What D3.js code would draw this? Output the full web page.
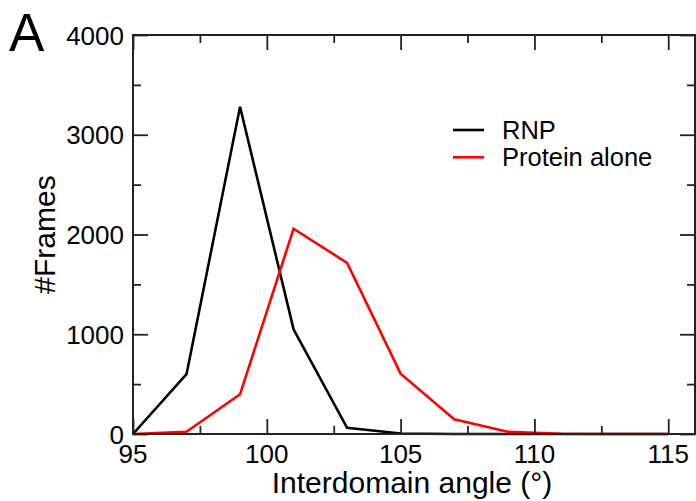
<!DOCTYPE html>
<html>
<head>
<meta charset="utf-8">
<script src="https://cdn.jsdelivr.net/npm/d3@7/dist/d3.min.js"></script>
<style>
  html, body { margin: 0; padding: 0; background: #fff; }
  text { font-family: "Liberation Sans", Arial, sans-serif; fill: #000; }
</style>
</head>
<body>
<div id="chart"></div>
<script>
// Interdomain angle histogram (frames per 2-degree bin)
const angles = [95, 97, 99, 101, 103, 105, 107, 109, 111, 113, 115];
const rnpFrames = [0, 600, 3280, 1050, 62, 5, 0, 0, 0, 0, 0];
const proteinFrames = [0, 22, 398, 2058, 1715, 605, 148, 22, 3, 0, 0];
const xMajor = [95, 100, 105, 110, 115];
const xMinor = [97.5, 102.5, 107.5, 112.5];
const yMajor = [0, 1000, 2000, 3000, 4000];
const yMinor = [500, 1500, 2500, 3500];
const seriesNames = ['RNP', 'Protein alone'];
const seriesColors = ['#000000', '#ff0000'];

const width = 696, height = 501;
const mLeft = 133, mRight = 695, mTop = 35, mBottom = 434;

const svg = d3.select('#chart')
    .append('svg')
    .attr('width', width)
    .attr('height', height);

const x = d3.scaleLinear().domain([95, 116]).range([mLeft, mRight]);
const y = d3.scaleLinear().domain([0, 4000]).range([mBottom, mTop]);

const line = d3.line()
    .x((d, i) => x(angles[i]))
    .y(d => y(d));

// series: black first, red on top
[rnpFrames, proteinFrames].forEach((vals, k) => {
    svg.append('path')
        .datum(vals)
        .attr('fill', 'none')
        .attr('stroke', seriesColors[k])
        .attr('stroke-width', 2.6)
        .attr('stroke-linejoin', 'miter')
        .attr('d', line);
});

// ticks pointing inward on all four sides
const tickColor = '#222';
function ticks(axisFn, scale, vals, size, pos) {
    const g = svg.append('g')
        .attr('transform', pos)
        .call(axisFn(scale).tickValues(vals).tickSize(size).tickFormat(''));
    g.select('.domain').remove();
    g.selectAll('line').attr('stroke', tickColor).attr('stroke-width', 1.8);
}
ticks(d3.axisBottom, x, xMajor, -15, `translate(0,${mBottom})`);
ticks(d3.axisBottom, x, xMinor, -8, `translate(0,${mBottom})`);
ticks(d3.axisTop, x, xMajor, -15, `translate(0,${mTop})`);
ticks(d3.axisTop, x, xMinor, -8, `translate(0,${mTop})`);
ticks(d3.axisLeft, y, yMajor, -15, `translate(${mLeft},0)`);
ticks(d3.axisLeft, y, yMinor, -8, `translate(${mLeft},0)`);
ticks(d3.axisRight, y, yMajor, -15, `translate(${mRight},0)`);
ticks(d3.axisRight, y, yMinor, -8, `translate(${mRight},0)`);

// frame
svg.append('rect')
    .attr('x', mLeft).attr('y', mTop)
    .attr('width', mRight - mLeft).attr('height', mBottom - mTop)
    .attr('fill', 'none')
    .attr('stroke', tickColor)
    .attr('stroke-width', 2);

// tick labels
xMajor.forEach(v => {
    svg.append('text')
        .attr('x', x(v))
        .attr('y', 463)
        .attr('text-anchor', 'middle')
        .attr('font-size', 26)
        .text(v);
});
yMajor.forEach(v => {
    svg.append('text')
        .attr('x', mLeft - 9)
        .attr('y', y(v) + 9.5)
        .attr('text-anchor', 'end')
        .attr('font-size', 26)
        .text(v);
});

// axis titles
svg.append('text')
    .attr('x', (mLeft + mRight) / 2 - 2)
    .attr('y', 493)
    .attr('text-anchor', 'middle')
    .attr('font-size', 30)
    .text('Interdomain angle (°)');

svg.append('text')
    .attr('transform', `translate(55,${(mTop + mBottom) / 2}) rotate(-90)`)
    .attr('text-anchor', 'middle')
    .attr('font-size', 30)
    .text('#Frames');

// panel letter
svg.append('text')
    .attr('x', 9)
    .attr('y', 51)
    .attr('font-size', 53)
    .text('A');

// legend
seriesNames.forEach((name, i) => {
    const ly = 130 + i * 27.3;
    svg.append('line')
        .attr('x1', 453).attr('x2', 484)
        .attr('y1', ly).attr('y2', ly)
        .attr('stroke', seriesColors[i])
        .attr('stroke-width', 2.6);
    svg.append('text')
        .attr('x', 502)
        .attr('y', ly + 8.5)
        .attr('font-size', 25.5)
        .text(name);
});
</script>
</body>
</html>
